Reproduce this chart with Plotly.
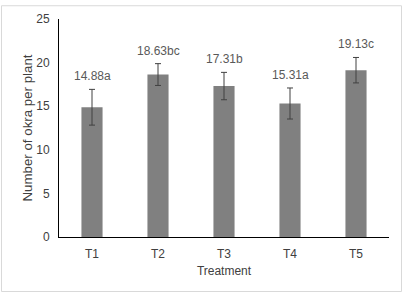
import plotly.graph_objects as go

categories = ["T1", "T2", "T3", "T4", "T5"]
means = [14.88, 18.63, 17.31, 15.31, 19.13]
errors = [2.05, 1.25, 1.57, 1.78, 1.46]
letters = ["a", "bc", "b", "a", "c"]
y_ticks = [0, 5, 10, 15, 20, 25]

FONT = "Liberation Sans, Arial, sans-serif"

fig = go.Figure()
fig.add_trace(go.Bar(
    x=categories, y=means, width=0.32,
    marker=dict(color="#808080", line=dict(width=0)),
    error_y=dict(type="data", array=errors, visible=True,
                 color="#404040", thickness=1, width=3),
))

for c, m, e, l in zip(categories, means, errors, letters):
    fig.add_annotation(x=c, y=m + e, text=f"{m:.2f}{l}", showarrow=False,
                       yanchor="bottom", yshift=4,
                       font=dict(family=FONT, size=12, color="#595959"))

L, R, T, B = 59, 15, 15, 58
W, H = 404, 295
pw, ph = W - L - R, H - T - B
fig.add_shape(type="rect", xref="paper", yref="paper",
              x0=(1.5 - L) / pw, x1=(W - 2.5 - L) / pw,
              y0=-(B - 2.5) / ph,
              y1=1 + (T - 1.5) / ph,
              line=dict(color="#d9d9d9", width=1), layer="below")

fig.update_layout(
    width=W, height=H,
    margin=dict(l=L, r=R, t=T, b=B),
    paper_bgcolor="white", plot_bgcolor="white",
    showlegend=False,
    font=dict(family=FONT, size=12, color="#404040"),
    xaxis=dict(showline=True, linecolor="#000000", linewidth=1,
               ticks="", showgrid=False, tickfont=dict(size=12, color="#404040"),
               ticklabelstandoff=6,
               title=dict(text="Treatment", standoff=6,
                          font=dict(size=12, color="#404040"))),
    yaxis=dict(range=[0, 25], tickvals=y_ticks, showline=True,
               linecolor="#000000", linewidth=1, ticks="", showgrid=False,
               zeroline=False, tickfont=dict(size=12, color="#404040"),
               ticklabelstandoff=6,
               title=dict(text="Number of okra per plant", standoff=0,
                          font=dict(size=13.3, color="#404040"))),
)

fig.write_html("out.html")
